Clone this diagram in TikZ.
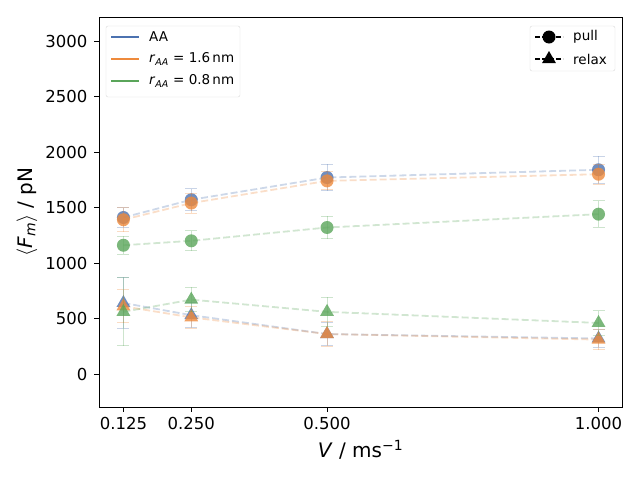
\documentclass[tikz,border=0pt]{standalone}
\usepackage{fontspec}
\setmainfont{DejaVu Sans}
\usetikzlibrary{shapes.geometric}
\definecolor{cblue}{HTML}{4C72B0}
\definecolor{corange}{HTML}{EE8A3C}
\definecolor{cgreen}{HTML}{5AA55A}

\begin{document}
\begin{tikzpicture}[x=1pt,y=-1pt,
        declare function={xp(\v)=123.4+(\v-0.125)*543; yp(\f)=374-\f*0.1110;},
        pull/.style={circle,fill=#1,fill opacity=0.8,inner sep=0pt,minimum size=13pt},
        relax/.style={regular polygon,regular polygon sides=3,fill=#1,fill opacity=0.8,inner sep=0pt,minimum size=16pt},
        trend/.style={#1,opacity=0.28,dash pattern=on 7pt off 3pt,line width=1.8pt},
        ebar/.style={#1,opacity=0.3,line width=1pt},
        tick/.style={font=\fontsize{16.5}{18}\selectfont}]
    \useasboundingbox (0,0) rectangle (640,480);

    % axes frame
    \draw[line width=0.8pt] (99,17) rectangle (622,407);
    \foreach \f in {0,500,...,3000}{
        \draw[line width=0.8pt] (99,{yp(\f)}) -- (94,{yp(\f)});
        \node[tick,anchor=east] at (91,{yp(\f)}) {\f};
    }
    \foreach \v/\lab in {0.125/0.125,0.25/0.250,0.5/0.500,1.0/1.000}{
        \draw[line width=0.8pt] ({xp(\v)},407) -- ({xp(\v)},412);
        \node[tick,anchor=north] at ({xp(\v)},414) {\lab};
    }
    \node[font=\fontsize{20}{22}\selectfont] (xlab) at (360.5,450) {\textit{V} / ms\textsuperscript{−1}};
    \node[font=\fontsize{20}{22}\selectfont,rotate=90] (ylab) at (27,212) {$\langle$\textit{F}\textsubscript{\textit{m}}$\rangle$ / pN};

    % data: colour/name/v/value/error
    \foreach \c/\s/\type/\d in {
        cblue/ap/pull/{1410/90,1570/100,1770/120,1840/120},
        corange/op/pull/{1390/110,1540/90,1740/80,1800/90},
        cgreen/gp/pull/{1160/80,1200/90,1320/100,1440/120},
        cblue/ar/relax/{640/230,530/110,360/100,320/80},
        corange/or/relax/{610/150,510/100,360/110,310/90},
        cgreen/gr/relax/{560/305,670/110,560/130,460/110}}{
        \foreach \m/\e [count=\i] in \d {
            \pgfmathsetmacro{\v}{{0.125,0.25,0.5,1.0}[\i-1]}
            \draw[ebar=\c] ({xp(\v)},{yp(\m-\e)}) -- ({xp(\v)},{yp(\m+\e)});
            \draw[ebar=\c] ({xp(\v)-6},{yp(\m-\e)}) -- ({xp(\v)+6},{yp(\m-\e)});
            \draw[ebar=\c] ({xp(\v)-6},{yp(\m+\e)}) -- ({xp(\v)+6},{yp(\m+\e)});
            \coordinate (\s\i) at ({xp(\v)},{yp(\m)});
        }
        \draw[trend=\c] (\s1) -- (\s2) -- (\s3) -- (\s4);
        \foreach \i in {1,...,4}
            \node[\type=\c] (\s m\i) at (\s\i) {};
    }

    % legends
    \draw[black!15,rounded corners=2pt,fill=white,fill opacity=0.8] (106,26) rectangle (240,97);
    \foreach \c/\lab [count=\i] in {cblue/AA,corange/{\textit{r}\textsubscript{\textit{AA}} = 1.6\,nm},cgreen/{\textit{r}\textsubscript{\textit{AA}} = 0.8\,nm}}{
        \draw[\c,line width=1.5pt] (111,{15+\i*22}) -- (139,{15+\i*22});
        \node[anchor=west,font=\fontsize{13.5}{15}\selectfont,inner sep=0pt] (leg\i) at (149,{15+\i*22}) {\lab};
    }
    \draw[black!15,rounded corners=2pt,fill=white,fill opacity=0.8] (530,26) rectangle (615,71);
    \foreach \t/\lab [count=\i] in {pull/pull,relax/relax}{
        \draw[line width=1.5pt,dash pattern=on 5pt off 2pt] (535,{15+\i*22}) -- (563,{15+\i*22});
        \node[\t=black,fill opacity=1] (mk\i) at (549,{15+\i*22}) {};
        \node[anchor=west,font=\fontsize{13.5}{15}\selectfont,inner sep=0pt] (lr\i) at (573,{15+\i*22}) {\lab};
    }
\end{tikzpicture}
\end{document}
